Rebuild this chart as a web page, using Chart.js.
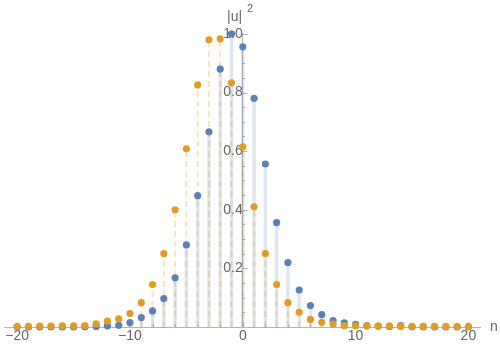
<!DOCTYPE html>
<html>
<head>
<meta charset="utf-8">
<script src="https://cdn.jsdelivr.net/npm/chart.js@4"></script>
<style>
  html, body { margin: 0; padding: 0; background: #fff; }
  #wrap { width: 500px; height: 352px; }
</style>
</head>
<body>
<div id="wrap"><canvas id="plotChart"></canvas></div>
<script>
// lattice sites n and the two |u|^2 profiles
const sites = [-20, -19, -18, -17, -16, -15, -14, -13, -12, -11, -10, -9, -8, -7, -6, -5, -4, -3, -2, -1,
  0, 1, 2, 3, 4, 5, 6, 7, 8, 9, 10, 11, 12, 13, 14, 15, 16, 17, 18, 19, 20];
const blueVals = [0, 0, 0, 0, 0, 0, 0.001, 0.002, 0.004, 0.006, 0.015, 0.032, 0.055, 0.097, 0.168, 0.28, 0.448, 0.666, 0.88, 1.0,
  0.956, 0.78, 0.556, 0.356, 0.22, 0.126, 0.073, 0.042, 0.022, 0.014, 0.009, 0.005, 0.003, 0.002, 0.005, 0.001, 0, 0, 0, 0, 0];
const orangeVals = [0.002, 0.002, 0.003, 0.003, 0.004, 0.004, 0.005, 0.011, 0.02, 0.028, 0.046, 0.083, 0.145, 0.25, 0.40, 0.608, 0.826, 0.98, 0.983, 0.833,
  0.615, 0.41, 0.25, 0.145, 0.083, 0.05, 0.026, 0.016, 0.01, 0.005, 0.004, 0.003, 0.003, 0.003, 0.002, 0.002, 0.002, 0.002, 0.002, 0.002, 0.002];

const xTicks = [-20, -10, 0, 10, 20];
const yTicks = [0.2, 0.4, 0.6, 0.8, 1.0];
const xMinor = [-20, -18, -16, -14, -12, -10, -8, -6, -4, -2, 0, 2, 4, 6, 8, 10, 12, 14, 16, 18, 20];
const yMinor = [0.05, 0.1, 0.15, 0.2, 0.25, 0.3, 0.35, 0.4, 0.45, 0.5, 0.55, 0.6, 0.65, 0.7, 0.75, 0.8, 0.85, 0.9, 0.95, 1.0];

const blue = "#5E81B5";
const orange = "#E19C24";
const axisColor = "#b4b4b4";
const labelColor = "#666666";
const font = "Liberation Sans";

// stems: a segment from 0 up to each point, broken by nulls
function stems(vals) {
  const out = [];
  sites.forEach((n, i) => {
    out.push({ x: n, y: 0 }, { x: n, y: vals[i] }, { x: n, y: null });
  });
  return out;
}
function points(vals) {
  return sites.map((n, i) => ({ x: n, y: vals[i] }));
}

// inward tick marks + axis labels, Mathematica style
const axisDecor = {
  id: "axisDecor",
  beforeDatasetsDraw(chart) {
    const c = chart.ctx;
    const xs = chart.scales.x, ys = chart.scales.y;
    const x0 = xs.getPixelForValue(0), y0 = ys.getPixelForValue(0);
    c.save();
    c.strokeStyle = axisColor;
    c.lineWidth = 1;
    c.beginPath();
    xMinor.forEach((v) => {
      const px = Math.round(xs.getPixelForValue(v)) + 0.5;
      const len = xTicks.includes(v) ? 4.5 : 2.5;
      c.moveTo(px, y0);
      c.lineTo(px, y0 - len);
    });
    yMinor.forEach((v) => {
      const py = Math.round(ys.getPixelForValue(v)) + 0.5;
      const len = yTicks.some((t) => Math.abs(t - v) < 1e-9) ? 4.5 : 2.5;
      c.moveTo(x0, py);
      c.lineTo(x0 + len, py);
    });
    c.stroke();
    c.restore();
  },
  afterDraw(chart) {
    const c = chart.ctx;
    c.save();
    c.fillStyle = labelColor;
    c.textBaseline = "alphabetic";
    c.font = "14px '" + font + "'";
    c.fillText("n", 490, 331);
    c.fillText("|u|", 227, 21);
    c.font = "11px '" + font + "'";
    c.fillText("2", 247, 12);
    c.restore();
  },
};

const ctx = document.getElementById("plotChart").getContext("2d");
new Chart(ctx, {
  type: "scatter",
  data: {
    datasets: [
      {
        data: points(orangeVals),
        backgroundColor: orange,
        borderWidth: 0,
        pointRadius: 3.6,
        order: 0,
        clip: false,
      },
      {
        data: points(blueVals),
        backgroundColor: blue,
        borderWidth: 0,
        pointRadius: 3.6,
        order: 1,
        clip: false,
      },
      {
        type: "line",
        data: stems(orangeVals),
        borderColor: "rgba(225, 156, 36, 0.27)",
        borderWidth: 2,
        borderDash: [6, 4],
        pointRadius: 0,
        spanGaps: false,
        order: 2,
        clip: false,
      },
      {
        type: "line",
        data: stems(blueVals),
        borderColor: "rgba(94, 129, 181, 0.2)",
        borderWidth: 3.5,
        pointRadius: 0,
        spanGaps: false,
        order: 3,
        clip: false,
      },
    ],
  },
  options: {
    responsive: true,
    maintainAspectRatio: false,
    animation: false,
    events: [],
    layout: {
      padding: { left: 0, right: 20, top: 33, bottom: 25 },
    },
    plugins: {
      legend: { display: false },
      tooltip: { enabled: false },
    },
    scales: {
      x: {
        type: "linear",
        position: { y: 0 },
        min: -21.17,
        max: 21.03,
        afterBuildTicks: (s) => { s.ticks = xTicks.map((v) => ({ value: v })); },
        // invisible tick length + negative padding keeps the labels where they were
        // without reserving side padding for the end labels
        grid: { display: false, drawTicks: true, tickLength: 13 },
        border: { display: true, color: axisColor, width: 1 },
        ticks: {
          color: labelColor,
          font: { family: font, size: 14 },
          padding: -12,
          autoSkip: false,
          maxRotation: 0,
          callback: (v) => String(v).replace("-", "\u2212"),
        },
      },
      y: {
        type: "linear",
        position: { x: 0 },
        min: 0,
        max: 1.003,
        afterBuildTicks: (s) => { s.ticks = yTicks.map((v) => ({ value: v })); },
        grid: { display: false },
        border: { display: true, color: axisColor, width: 1 },
        ticks: {
          color: labelColor,
          font: { family: font, size: 14 },
          padding: 5,
          mirror: true,
          autoSkip: false,
          callback: (v) => v.toFixed(1),
        },
      },
    },
  },
  plugins: [axisDecor],
});
</script>
</body>
</html>
